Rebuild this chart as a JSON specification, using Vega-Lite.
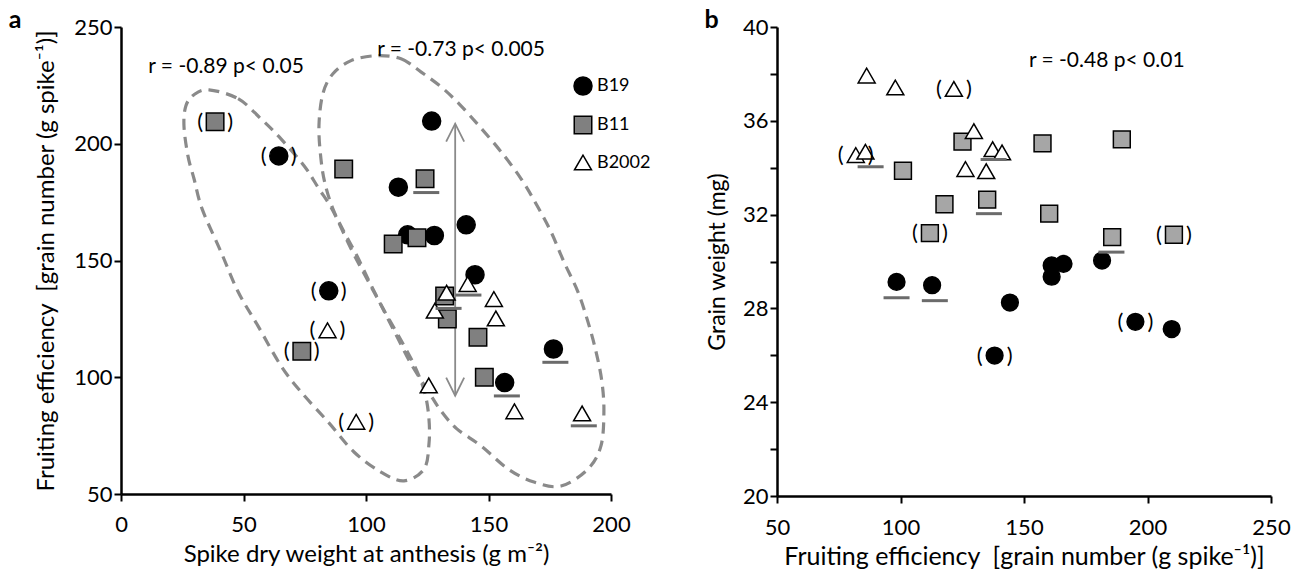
{
  "$schema": "https://vega.github.io/schema/vega-lite/v6.json",
  "background": "white",
  "padding": {"left": 8, "top": 8, "right": 5, "bottom": 2},
  "spacing": 53,
  "config": {
    "view": {"stroke": null},
    "font": "Lato",
    "axis": {
      "domainColor": "black", "domainWidth": 2.5, "tickColor": "black", "tickWidth": 2, "tickSize": 7,
      "labelFont": "Lato", "labelFontSize": 22, "labelColor": "black", "labelFlush": false, "labelOverlap": false,
      "titleFont": "Lato", "titleFontSize": 24, "titleFontWeight": "normal", "titleColor": "black", "grid": false
    },
    "title": {"font": "Lato", "fontSize": 25, "fontWeight": "bold", "color": "black", "anchor": "start", "frame": "bounds", "offset": -17}
  },
  "datasets": {
    "ptsA": [
      {"c": "B19", "x": 64.4, "y": 194.8, "br": 1},
      {"c": "B19", "x": 126.8, "y": 209.7, "br": 0},
      {"c": "B19", "x": 113.2, "y": 181.4, "br": 0},
      {"c": "B19", "x": 117.0, "y": 161.0, "br": 0},
      {"c": "B19", "x": 127.9, "y": 160.7, "br": 0},
      {"c": "B19", "x": 140.9, "y": 165.3, "br": 0},
      {"c": "B19", "x": 144.5, "y": 143.9, "br": 0},
      {"c": "B19", "x": 84.8, "y": 137.0, "br": 1},
      {"c": "B19", "x": 176.5, "y": 112.1, "br": 0},
      {"c": "B19", "x": 156.6, "y": 97.7, "br": 0},
      {"c": "B11", "x": 38.4, "y": 209.4, "br": 1},
      {"c": "B11", "x": 90.9, "y": 189.2, "br": 0},
      {"c": "B11", "x": 124.1, "y": 185.0, "br": 0},
      {"c": "B11", "x": 111.1, "y": 157.1, "br": 0},
      {"c": "B11", "x": 120.8, "y": 159.7, "br": 0},
      {"c": "B11", "x": 132.1, "y": 134.8, "br": 0},
      {"c": "B11", "x": 133.2, "y": 125.0, "br": 0},
      {"c": "B11", "x": 145.7, "y": 117.1, "br": 0},
      {"c": "B11", "x": 148.3, "y": 100.0, "br": 0},
      {"c": "B11", "x": 73.8, "y": 111.1, "br": 1},
      {"c": "B2002", "x": 141.5, "y": 139.9, "br": 0},
      {"c": "B2002", "x": 132.9, "y": 136.2, "br": 0},
      {"c": "B2002", "x": 128.1, "y": 128.5, "br": 0},
      {"c": "B2002", "x": 152.2, "y": 133.5, "br": 0},
      {"c": "B2002", "x": 153.0, "y": 125.2, "br": 0},
      {"c": "B2002", "x": 125.6, "y": 96.5, "br": 0},
      {"c": "B2002", "x": 160.6, "y": 85.4, "br": 0},
      {"c": "B2002", "x": 188.2, "y": 84.5, "br": 0},
      {"c": "B2002", "x": 84.3, "y": 120.1, "br": 1},
      {"c": "B2002", "x": 96.0, "y": 80.9, "br": 1}
    ],
    "ulA": [
      {"x": 124.6, "y": 179.1}, {"x": 141.8, "y": 135.2}, {"x": 133.7, "y": 129.5},
      {"x": 177.3, "y": 106.4}, {"x": 157.5, "y": 92.0}, {"x": 188.9, "y": 79.2}
    ],
    "annA": [
      {"x": 42.9, "y": 232.9, "t": "r = -0.89 p< 0.05"},
      {"x": 138.8, "y": 240.0, "t": "r = -0.73 p< 0.005"}
    ],
    "arrowA": [{"x": 136.4, "y": 208.6, "y2": 92.1}],
    "ellA": [
      {"e": "L", "i": 0, "x": 35.9, "y": 223.1}, {"e": "L", "i": 1, "x": 47.8, "y": 219.3},
      {"e": "L", "i": 2, "x": 57.1, "y": 210.7}, {"e": "L", "i": 3, "x": 65.3, "y": 202.1},
      {"e": "L", "i": 4, "x": 74.7, "y": 190.6}, {"e": "L", "i": 5, "x": 80.8, "y": 180.7},
      {"e": "L", "i": 6, "x": 86.5, "y": 171.3}, {"e": "L", "i": 7, "x": 93.9, "y": 155.0},
      {"e": "L", "i": 8, "x": 100.8, "y": 141.3}, {"e": "L", "i": 9, "x": 108.2, "y": 127.1},
      {"e": "L", "i": 10, "x": 115.1, "y": 114.3}, {"e": "L", "i": 11, "x": 120.4, "y": 103.6},
      {"e": "L", "i": 12, "x": 124.1, "y": 92.9}, {"e": "L", "i": 13, "x": 125.7, "y": 82.1},
      {"e": "L", "i": 14, "x": 125.7, "y": 71.4}, {"e": "L", "i": 15, "x": 123.7, "y": 60.7},
      {"e": "L", "i": 16, "x": 115.5, "y": 55.6}, {"e": "L", "i": 17, "x": 106.1, "y": 59.4},
      {"e": "L", "i": 18, "x": 95.1, "y": 68.0}, {"e": "L", "i": 19, "x": 84.5, "y": 80.9},
      {"e": "L", "i": 20, "x": 73.5, "y": 93.7}, {"e": "L", "i": 21, "x": 65.3, "y": 104.9},
      {"e": "L", "i": 22, "x": 55.9, "y": 122.0}, {"e": "L", "i": 23, "x": 47.8, "y": 136.6},
      {"e": "L", "i": 24, "x": 40.8, "y": 153.7}, {"e": "L", "i": 25, "x": 33.1, "y": 172.1},
      {"e": "L", "i": 26, "x": 29.8, "y": 185.0}, {"e": "L", "i": 27, "x": 27.3, "y": 194.9},
      {"e": "L", "i": 28, "x": 25.7, "y": 207.7}, {"e": "L", "i": 29, "x": 26.5, "y": 216.3},
      {"e": "L", "i": 30, "x": 29.8, "y": 221.0},
      {"e": "R", "i": 0, "x": 104.1, "y": 237.7}, {"e": "R", "i": 1, "x": 114.3, "y": 236.4},
      {"e": "R", "i": 2, "x": 122.4, "y": 230.8}, {"e": "R", "i": 3, "x": 130.6, "y": 224.4},
      {"e": "R", "i": 4, "x": 138.0, "y": 217.1}, {"e": "R", "i": 5, "x": 146.1, "y": 207.7},
      {"e": "R", "i": 6, "x": 155.1, "y": 196.6}, {"e": "R", "i": 7, "x": 163.3, "y": 185.0},
      {"e": "R", "i": 8, "x": 169.4, "y": 174.3}, {"e": "R", "i": 9, "x": 175.5, "y": 162.3},
      {"e": "R", "i": 10, "x": 180.8, "y": 149.4}, {"e": "R", "i": 11, "x": 186.5, "y": 136.6},
      {"e": "R", "i": 12, "x": 190.6, "y": 123.7}, {"e": "R", "i": 13, "x": 193.9, "y": 110.9},
      {"e": "R", "i": 14, "x": 196.3, "y": 98.0}, {"e": "R", "i": 15, "x": 197.1, "y": 85.1},
      {"e": "R", "i": 16, "x": 195.9, "y": 70.6}, {"e": "R", "i": 17, "x": 190.6, "y": 60.7},
      {"e": "R", "i": 18, "x": 179.6, "y": 53.4}, {"e": "R", "i": 19, "x": 168.6, "y": 55.1},
      {"e": "R", "i": 20, "x": 158.0, "y": 60.7}, {"e": "R", "i": 21, "x": 147.0, "y": 70.6},
      {"e": "R", "i": 22, "x": 137.1, "y": 77.9}, {"e": "R", "i": 23, "x": 130.6, "y": 85.6},
      {"e": "R", "i": 24, "x": 125.3, "y": 94.2}, {"e": "R", "i": 25, "x": 118.4, "y": 105.7},
      {"e": "R", "i": 26, "x": 112.7, "y": 117.3}, {"e": "R", "i": 27, "x": 106.9, "y": 129.3},
      {"e": "R", "i": 28, "x": 101.2, "y": 141.3}, {"e": "R", "i": 29, "x": 96.3, "y": 152.0},
      {"e": "R", "i": 30, "x": 91.0, "y": 162.3}, {"e": "R", "i": 31, "x": 86.5, "y": 172.1},
      {"e": "R", "i": 32, "x": 83.3, "y": 182.8}, {"e": "R", "i": 33, "x": 81.6, "y": 193.6},
      {"e": "R", "i": 34, "x": 80.8, "y": 207.7}, {"e": "R", "i": 35, "x": 82.4, "y": 221.4},
      {"e": "R", "i": 36, "x": 86.5, "y": 230.0}, {"e": "R", "i": 37, "x": 93.9, "y": 235.6}
    ],
    "ptsB": [
      {"c": "B19", "x": 98.4, "y": 29.13, "br": 0},
      {"c": "B19", "x": 112.8, "y": 28.99, "br": 0},
      {"c": "B19", "x": 144.3, "y": 28.25, "br": 0},
      {"c": "B19", "x": 138.1, "y": 25.99, "br": 1},
      {"c": "B19", "x": 161.2, "y": 29.35, "br": 0},
      {"c": "B19", "x": 161.2, "y": 29.83, "br": 0},
      {"c": "B19", "x": 166.0, "y": 29.90, "br": 0},
      {"c": "B19", "x": 181.6, "y": 30.04, "br": 0},
      {"c": "B19", "x": 195.1, "y": 27.43, "br": 1},
      {"c": "B19", "x": 209.8, "y": 27.12, "br": 0},
      {"c": "B11", "x": 101.0, "y": 33.87, "br": 0},
      {"c": "B11", "x": 111.9, "y": 31.21, "br": 1},
      {"c": "B11", "x": 117.8, "y": 32.44, "br": 0},
      {"c": "B11", "x": 125.1, "y": 35.11, "br": 0},
      {"c": "B11", "x": 135.1, "y": 32.64, "br": 0},
      {"c": "B11", "x": 157.5, "y": 35.04, "br": 0},
      {"c": "B11", "x": 160.2, "y": 32.04, "br": 0},
      {"c": "B11", "x": 185.7, "y": 31.04, "br": 0},
      {"c": "B11", "x": 189.6, "y": 35.21, "br": 0},
      {"c": "B11", "x": 210.7, "y": 31.14, "br": 1},
      {"c": "B2002", "x": 86.3, "y": 37.93, "br": 0},
      {"c": "B2002", "x": 97.9, "y": 37.42, "br": 0},
      {"c": "B2002", "x": 121.6, "y": 37.36, "br": 1},
      {"c": "B2002", "x": 129.7, "y": 35.56, "br": 0},
      {"c": "B2002", "x": 137.3, "y": 34.79, "br": 0},
      {"c": "B2002", "x": 141.1, "y": 34.65, "br": 0},
      {"c": "B2002", "x": 81.9, "y": 34.54, "br": 1},
      {"c": "B2002", "x": 85.8, "y": 34.68, "br": 0},
      {"c": "B2002", "x": 126.3, "y": 33.94, "br": 0},
      {"c": "B2002", "x": 134.7, "y": 33.85, "br": 0}
    ],
    "ulB": [
      {"x": 87.9, "y": 34.04}, {"x": 137.7, "y": 34.35}, {"x": 135.8, "y": 32.04},
      {"x": 185.4, "y": 30.4}, {"x": 98.4, "y": 28.45}, {"x": 113.9, "y": 28.33}
    ],
    "annB": [{"x": 183.5, "y": 38.53, "t": "r = -0.48 p< 0.01"}]
  },
  "resolve": {"scale": {"fill": "independent", "shape": "independent", "size": "independent"}},
  "hconcat": [
    {
      "width": 490,
      "height": 467,
      "title": {"text": "a", "dx": -26},
      "layer": [
        {
          "data": {"name": "ellA"},
          "mark": {"type": "line", "interpolate": "cardinal-closed", "strokeDash": [11, 7], "strokeWidth": 3.2, "color": "#8a8a8a", "clip": false},
          "encoding": {
            "x": {"field": "x", "type": "quantitative", "scale": {"domain": [0, 200], "nice": false, "zero": false},
              "axis": {"values": [0, 50, 100, 150, 200], "labelPadding": 13, "titlePadding": 7, "title": "Spike dry weight at anthesis (g m⁻²)"}},
            "y": {"field": "y", "type": "quantitative", "scale": {"domain": [50, 250], "nice": false, "zero": false},
              "axis": {"values": [50, 100, 150, 200, 250], "labelPadding": 2, "titlePadding": 15, "titleFontSize": 24, "title": "Fruiting efficiency \u00a0[grain number (g spike⁻¹)]"}},
            "detail": {"field": "e", "type": "nominal"},
            "order": {"field": "i", "type": "quantitative"}
          }
        },
        {
          "data": {"name": "arrowA"},
          "mark": {"type": "rule", "color": "#8a8a8a", "strokeWidth": 1.8},
          "encoding": {
            "x": {"field": "x", "type": "quantitative"},
            "y": {"field": "y", "type": "quantitative"},
            "y2": {"field": "y2"}
          }
        },
        {
          "data": {"name": "arrowA"},
          "mark": {"type": "point", "shape": "M-0.5,1L0,0L0.5,1", "size": 1296, "filled": false, "stroke": "#8a8a8a", "strokeWidth": 1.8, "opacity": 1},
          "encoding": {
            "x": {"field": "x", "type": "quantitative"},
            "y": {"field": "y", "type": "quantitative"}
          }
        },
        {
          "data": {"name": "arrowA"},
          "mark": {"type": "point", "shape": "M-0.5,-1L0,0L0.5,-1", "size": 1296, "filled": false, "stroke": "#8a8a8a", "strokeWidth": 1.8, "opacity": 1},
          "encoding": {
            "x": {"field": "x", "type": "quantitative"},
            "y": {"field": "y2", "type": "quantitative"}
          }
        },
        {
          "data": {"name": "ptsA"},
          "mark": {"type": "point", "filled": true, "stroke": "black", "strokeWidth": 1.5, "opacity": 1},
          "encoding": {
            "x": {"field": "x", "type": "quantitative"},
            "y": {"field": "y", "type": "quantitative"},
            "shape": {"field": "c", "type": "nominal", "scale": {"domain": ["B19", "B11", "B2002"], "range": ["circle", "square", "triangle-up"]},
              "legend": {"title": null, "orient": "none", "legendX": 452, "legendY": 49, "labelFontSize": 18, "labelFont": "Lato", "labelColor": "black", "rowPadding": 15, "labelOffset": 4, "padding": 0,
                "encode": {"symbols": {"update": {"stroke": {"value": "black"}, "strokeWidth": {"value": 1.5}, "opacity": {"value": 1}}}}}},
            "fill": {"field": "c", "type": "nominal", "scale": {"domain": ["B19", "B11", "B2002"], "range": ["black", "#808080", "white"]},
              "legend": {"title": null, "orient": "none", "legendX": 452, "legendY": 49, "labelFontSize": 18, "labelFont": "Lato", "labelColor": "black", "rowPadding": 15, "labelOffset": 4, "padding": 0,
                "encode": {"symbols": {"update": {"stroke": {"value": "black"}, "strokeWidth": {"value": 1.5}, "opacity": {"value": 1}}}}}},
            "size": {"field": "c", "type": "nominal", "scale": {"domain": ["B19", "B11", "B2002"], "range": [324, 289, 400]},
              "legend": {"title": null, "orient": "none", "legendX": 452, "legendY": 49, "labelFontSize": 18, "labelFont": "Lato", "labelColor": "black", "rowPadding": 15, "labelOffset": 4, "padding": 0,
                "encode": {"symbols": {"update": {"stroke": {"value": "black"}, "strokeWidth": {"value": 1.5}, "opacity": {"value": 1}}}}}}
          }
        },
        {
          "data": {"name": "ulA"},
          "mark": {"type": "tick", "orient": "horizontal", "size": 26, "thickness": 3, "color": "#6b6b6b", "opacity": 1},
          "encoding": {
            "x": {"field": "x", "type": "quantitative"},
            "y": {"field": "y", "type": "quantitative"}
          }
        },
        {
          "data": {"name": "ptsA"},
          "transform": [{"filter": "datum.br == 1"}],
          "mark": {"type": "text", "text": "(", "dx": -15, "fontSize": 22, "baseline": "middle", "align": "center", "font": "Lato", "color": "black"},
          "encoding": {
            "x": {"field": "x", "type": "quantitative"},
            "y": {"field": "y", "type": "quantitative"}
          }
        },
        {
          "data": {"name": "ptsA"},
          "transform": [{"filter": "datum.br == 1"}],
          "mark": {"type": "text", "text": ")", "dx": 15, "fontSize": 22, "baseline": "middle", "align": "center", "font": "Lato", "color": "black"},
          "encoding": {
            "x": {"field": "x", "type": "quantitative"},
            "y": {"field": "y", "type": "quantitative"}
          }
        },
        {
          "data": {"name": "annA"},
          "mark": {"type": "text", "fontSize": 21, "baseline": "middle", "align": "center", "font": "Lato", "color": "black"},
          "encoding": {
            "x": {"field": "x", "type": "quantitative"},
            "y": {"field": "y", "type": "quantitative"},
            "text": {"field": "t"}
          }
        }
      ]
    },
    {
      "width": 494,
      "height": 469,
      "title": {"text": "b", "dx": -2},
      "layer": [
        {
          "data": {"name": "ptsB"},
          "mark": {"type": "point", "filled": true, "stroke": "black", "strokeWidth": 1.5, "opacity": 1},
          "encoding": {
            "x": {"field": "x", "type": "quantitative", "scale": {"domain": [50, 250], "nice": false, "zero": false},
              "axis": {"values": [50, 100, 150, 200, 250], "labelPadding": 14, "titlePadding": 6, "titleFontSize": 25, "title": "Fruiting efficiency \u00a0[grain number (g spike⁻¹)]"}},
            "y": {"field": "y", "type": "quantitative", "scale": {"domain": [20, 40], "nice": false, "zero": false},
              "axis": {"values": [20, 22, 24, 26, 28, 30, 32, 34, 36, 38, 40], "labelExpr": "datum.value % 4 == 0 ? datum.label : ''", "labelPadding": 2, "titlePadding": 13, "titleFontSize": 23, "title": "Grain weight (mg)"}},
            "shape": {"field": "c", "type": "nominal", "scale": {"domain": ["B19", "B11", "B2002"], "range": ["circle", "square", "triangle-up"]}, "legend": null},
            "fill": {"field": "c", "type": "nominal", "scale": {"domain": ["B19", "B11", "B2002"], "range": ["black", "#a6a6a6", "white"]}, "legend": null},
            "size": {"field": "c", "type": "nominal", "scale": {"domain": ["B19", "B11", "B2002"], "range": [280, 289, 370]}, "legend": null}
          }
        },
        {
          "data": {"name": "ulB"},
          "mark": {"type": "tick", "orient": "horizontal", "size": 26, "thickness": 3, "color": "#6b6b6b", "opacity": 1},
          "encoding": {
            "x": {"field": "x", "type": "quantitative"},
            "y": {"field": "y", "type": "quantitative"}
          }
        },
        {
          "data": {"name": "ptsB"},
          "transform": [{"filter": "datum.br == 1"}],
          "mark": {"type": "text", "text": "(", "dx": -15, "fontSize": 22, "baseline": "middle", "align": "center", "font": "Lato", "color": "black"},
          "encoding": {
            "x": {"field": "x", "type": "quantitative"},
            "y": {"field": "y", "type": "quantitative"}
          }
        },
        {
          "data": {"name": "ptsB"},
          "transform": [{"filter": "datum.br == 1"}],
          "mark": {"type": "text", "text": ")", "dx": 15, "fontSize": 22, "baseline": "middle", "align": "center", "font": "Lato", "color": "black"},
          "encoding": {
            "x": {"field": "x", "type": "quantitative"},
            "y": {"field": "y", "type": "quantitative"}
          }
        },
        {
          "data": {"name": "annB"},
          "mark": {"type": "text", "fontSize": 21, "baseline": "middle", "align": "center", "font": "Lato", "color": "black"},
          "encoding": {
            "x": {"field": "x", "type": "quantitative"},
            "y": {"field": "y", "type": "quantitative"},
            "text": {"field": "t"}
          }
        }
      ]
    }
  ]
}
